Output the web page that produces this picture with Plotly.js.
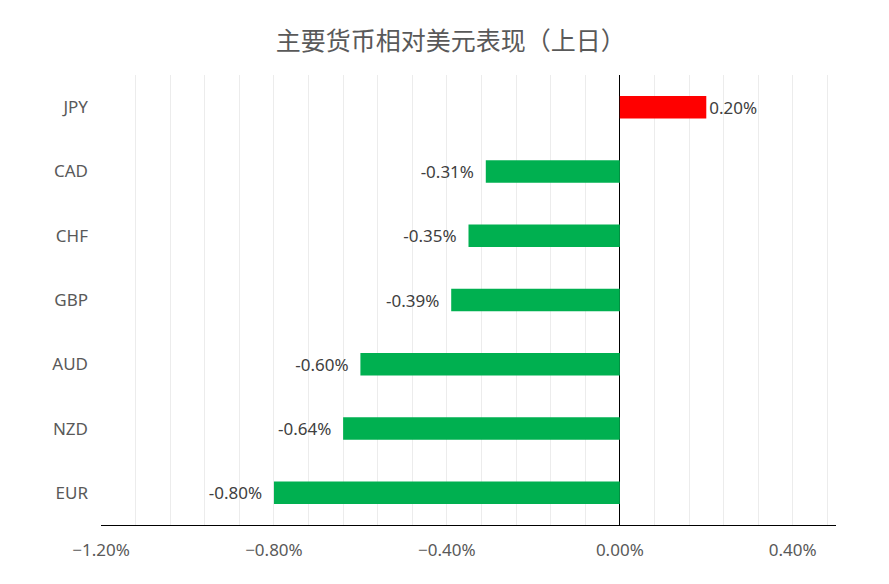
<!DOCTYPE html>
<html>
<head>
<meta charset="utf-8">
<script src="https://cdn.plot.ly/plotly-3.0.1.min.js"></script>
<style>
  html, body { margin: 0; padding: 0; background: #fff; }
  #chart { width: 889px; height: 584px; }
</style>
</head>
<body>
<div id="chart"></div>
<script>
// Daily move of major currencies vs USD, in percent. Top row first.
const currencies = ["JPY", "CAD", "CHF", "GBP", "AUD", "NZD", "EUR"];
const changes = [0.20, -0.31, -0.35, -0.39, -0.60, -0.64, -0.80];

const UP = "#ff0000";
const DOWN = "#00b050";
const INK = "#595959";
const GRID = "#ececec";
const FONT = "'Noto Sans', 'Open Sans', sans-serif";

const trace = {
  type: "bar",
  orientation: "h",
  y: currencies,
  x: changes,
  marker: { color: changes.map((v) => (v >= 0 ? UP : DOWN)) },
  // negative labels sit a little further off the bar end, as in the source
  texttemplate: changes.map((v) => (v >= 0 ? "%{x:.2f}%" : "%{x:.2f}%  ")),
  textposition: "outside",
  constraintext: "none",
  cliponaxis: false,
  textfont: { family: FONT, size: 17, color: "#404040" },
  hoverinfo: "skip",
};

const layout = {
  width: 889,
  height: 584,
  paper_bgcolor: "#fff",
  plot_bgcolor: "#fff",
  margin: { t: 75, r: 53, b: 59, l: 101 },
  showlegend: false,
  bargap: 0.65,
  font: { family: FONT, color: INK, size: 17 },
  title: {
    text: "主要货币相对美元表现（上日）",
    font: { family: "'Noto Sans CJK SC', sans-serif", size: 25, color: INK },
    x: 0.507, xanchor: "center", y: 0.93, yanchor: "middle",
  },
  xaxis: {
    range: [-1.2, 0.5],
    tick0: -1.2,
    dtick: 0.4,
    tickformat: ".2f",
    ticksuffix: "%",
    showgrid: true,
    gridcolor: GRID,
    minor: { dtick: 0.08, tick0: -1.2, showgrid: true, gridcolor: GRID, ticks: "" },
    zeroline: true,
    zerolinecolor: "#000",
    zerolinewidth: 1,
    showline: true,
    linecolor: "#000",
    linewidth: 1,
    ticks: "",
    ticklabelstandoff: 10,
    tickfont: { family: FONT, size: 17, color: INK },
    fixedrange: true,
  },
  yaxis: {
    type: "category",
    autorange: "reversed",
    showgrid: false,
    zeroline: false,
    showline: false,
    ticks: "",
    ticklabelstandoff: 12,
    tickfont: { family: FONT, size: 17, color: INK },
    fixedrange: true,
  },
};

Plotly.newPlot("chart", [trace], layout, { displayModeBar: false, staticPlot: true });
</script>
</body>
</html>
